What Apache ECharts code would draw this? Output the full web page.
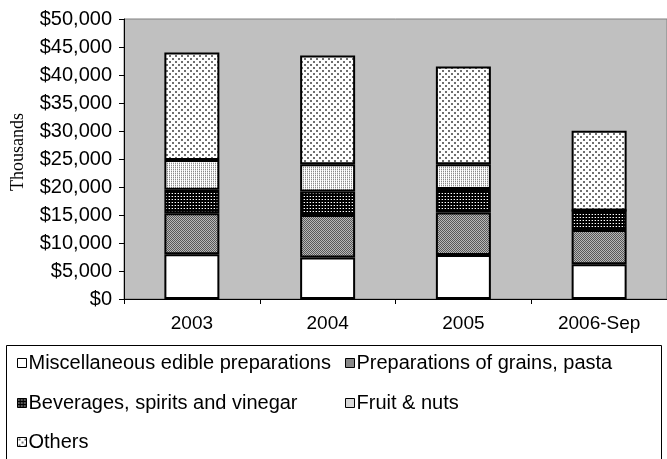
<!DOCTYPE html>
<html>
<head>
<meta charset="utf-8">
<script src="https://cdn.jsdelivr.net/npm/echarts@6/dist/echarts.min.js"></script>
<style>html,body{margin:0;padding:0;background:#fff}#c{width:667px;height:459px}</style>
</head>
<body>
<div id="c"></div>
<script>
var categories = ['2003', '2004', '2005', '2006-Sep'];
var misc = [8000, 7400, 7850, 6200];
var grains = [7300, 7600, 7600, 6100];
var beverages = [4200, 4200, 4200, 3500];
var fruit = [5300, 4850, 4400, 0];
var others = [19200, 19450, 17450, 14250];
var seriesNames = ['Miscellaneous edible preparations', 'Preparations of grains, pasta', 'Beverages, spirits and vinegar', 'Fruit & nuts', 'Others'];
var yTicks = [0, 5000, 10000, 15000, 20000, 25000, 30000, 35000, 40000, 45000, 50000];

function makePattern(size, bg, dots) {
  var c = document.createElement('canvas');
  c.width = size; c.height = size;
  var ctx = c.getContext('2d');
  ctx.fillStyle = bg; ctx.fillRect(0, 0, size, size);
  dots.forEach(function (d) { ctx.fillStyle = d[2]; ctx.fillRect(d[0], d[1], d[3] || 1, d[4] || 1); });
  return { image: c, repeat: 'repeat' };
}
var patGrains = makePattern(2, '#b8b8b8', [[0, 0, '#585858'], [1, 1, '#585858']]);
var patBev = makePattern(3, '#000000', [[1, 1, '#ffffff'], [0, 1, '#606060']]);
var patFruit = makePattern(2, '#ffffff', [[1, 1, '#8a8a8a'], [1, 0, '#d8d8d8']]);
var patOthers = makePattern(6, '#ffffff', [[1, 1, '#707070', 2, 2], [4, 4, '#707070', 2, 2]]);
var fills = ['#ffffff', patGrains, patBev, patFruit, patOthers];
var dataSets = [misc, grains, beverages, fruit, others];

var chart = echarts.init(document.getElementById('c'), null, { renderer: 'canvas' });
var FONT = '"Liberation Sans", Arial, sans-serif';

var series = seriesNames.map(function (n, i) {
  return {
    name: n, type: 'bar', stack: 'total', barWidth: 55,
    data: dataSets[i],
    itemStyle: { color: fills[i], borderColor: '#000', borderWidth: 2 },
    emphasis: { disabled: true }, animation: false
  };
});

var legendPos = [[17, 353], [345, 353], [17, 393], [345, 393], [17, 432]];
var legends = seriesNames.map(function (n, i) {
  return {
    data: [n], left: legendPos[i][0], top: legendPos[i][1], padding: 0,
    icon: 'rect', itemWidth: 9, itemHeight: 9, itemGap: 0,
    itemStyle: { borderColor: '#000', borderWidth: 1 },
    textStyle: { fontFamily: FONT, fontSize: 20, color: '#000', padding: [0, 0, 0, -3] },
    selectedMode: false
  };
});

chart.setOption({
  animation: false,
  backgroundColor: '#ffffff',
  grid: { left: 124, top: 19, right: 0, bottom: 160, show: true, backgroundColor: '#c0c0c0', borderColor: '#808080', borderWidth: 1 },
  xAxis: {
    type: 'category', data: categories,
    axisLine: { lineStyle: { color: '#000', width: 1 } },
    axisTick: { show: true, length: 5, lineStyle: { color: '#000' } },
    axisLabel: { fontFamily: FONT, fontSize: 19, color: '#000', margin: 15 },
    splitLine: { show: false }
  },
  yAxis: {
    type: 'value', min: yTicks[0], max: yTicks[yTicks.length - 1], interval: yTicks[1] - yTicks[0],
    axisLine: { show: true, lineStyle: { color: '#000', width: 1 } },
    axisTick: { show: true, length: 5, lineStyle: { color: '#000' } },
    axisLabel: { fontFamily: FONT, fontSize: 20, color: '#000', margin: 12,
      formatter: function (v) { return '$' + v.toLocaleString('en-US'); } },
    splitLine: { show: false }
  },
  legend: legends,
  graphic: [
    { type: 'rect', left: 4, top: 343, shape: { width: 655, height: 130 }, style: { fill: 'none', stroke: '#000', lineWidth: 1 }, z: 0 },
    { type: 'text', x: 18, y: 152, rotation: Math.PI / 2,
      style: { text: 'Thousands', font: '18px "Liberation Serif", "Times New Roman", serif', fill: '#000', align: 'center', verticalAlign: 'middle' } }
  ],
  series: series
});
</script>
</body>
</html>
